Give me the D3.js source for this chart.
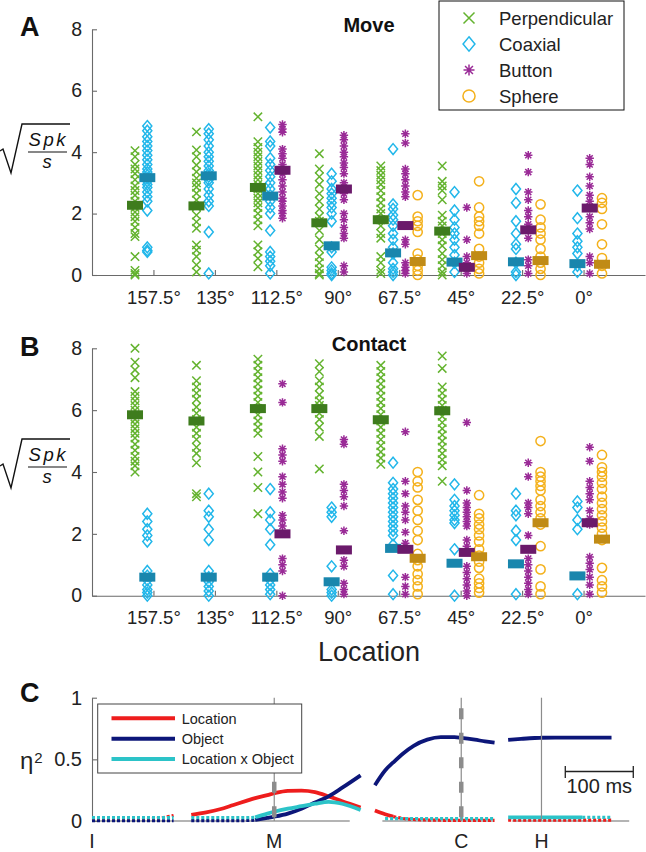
<!DOCTYPE html>
<html><head><meta charset="utf-8">
<script src="https://cdn.jsdelivr.net/npm/d3@7"></script>
<style>
body{margin:0;background:#fff}
svg{display:block}
text{font-family:"Liberation Sans",Arial,Helvetica,sans-serif}
</style>
</head><body>
<svg id="chart" width="646" height="852"></svg>
<script>
// ---------------- DATA ----------------
const locations = ["157.5°","135°","112.5°","90°","67.5°","45°","22.5°","0°"];
const objects = ["Perpendicular","Coaxial","Button","Sphere"];

// Panel A (Move): sqrt(spikes/s) per trial, one array per location
const movePerpendicular = [
 [4.05,3.85,3.6,3.45,3.3,3.1,2.9,2.75,2.6,2.4,2.2,2.05,1.9,1.75,1.55,1.35,1.25,0.6,0.15,0.05,0],
 [4.66,4.07,3.85,3.58,3.36,3.15,3.0,2.86,2.66,2.44,2.22,1.95,1.73,1.52,0.98,0.81,0.6,0.33,0.1],
 [5.15,4.34,4.15,4.0,3.85,3.7,3.55,3.4,3.25,3.1,2.95,2.8,2.65,2.5,2.35,2.2,2.0,1.8,1.6,0.98,0.76,0.54,0.27],
 [3.95,3.45,3.2,2.95,2.65,2.4,2.15,1.9,1.75,1.45,1.15,0.85,0.6,0.4,0.2,0.05,0],
 [3.55,3.4,3.25,3.1,2.95,2.75,2.55,2.35,2.15,2.0,1.8,1.6,1.35,1.2,0.6,0.4,0.15,0.05],
 [3.55,3.05,2.9,2.75,2.45,1.95,1.75,1.6,1.35,1.15,0.95,0.7,0.5,0.3,0.1,0],
 [],[]
];
const moveCoaxial = [
 [4.85,4.7,4.5,4.35,4.2,4.05,3.9,3.75,3.6,3.45,3.35,3.25,3.15,3.05,2.95,2.85,2.7,2.55,2.4,2.1,0.9,0.8,0.75],
 [4.75,4.6,4.4,4.2,4.0,3.85,3.7,3.55,3.4,3.3,3.2,3.1,3.0,2.8,2.6,2.4,2.25,1.4,0.05],
 [4.8,4.35,4.2,3.8,3.6,3.4,3.2,3.0,2.8,2.6,2.4,2.2,2.0,1.45,0.75,0.6,0.45,0.3,0.05],
 [3.3,3.05,2.8,2.65,2.5,2.35,2.2,2.0,1.75,0.9,0.75,0.25,0.15,0.05,0],
 [4.1,2.3,2.15,1.95,1.8,1.6,1.35,1.15,0.9,0.7,0.4,0.2,0.1,0],
 [2.7,2.1,1.8,1.55,1.35,1.15,0.9,0.65,0.4,0.1],
 [2.8,2.35,1.75,1.35,1.0,0.85,0.4,0.1,0],
 [2.75,1.85,1.35,1.1,0.9,0.7,0.3,0.1]
];
const moveButton = [
 [],[],
 [4.9,4.75,4.65,4.1,3.95,3.8,3.6,3.45,3.3,3.1,2.9,2.7,2.5,2.4,2.25,2.1,2.0,1.85],
 [4.55,4.4,4.2,4.0,3.85,3.65,3.5,3.3,3.0,2.85,2.65,2.45,2.0,1.8,1.55,1.35,1.2,0.3,0.1],
 [4.6,4.3,3.45,3.3,3.1,2.9,2.7,2.55,1.15,1.0,0.4,0.25,0.15,0.05],
 [2.2,1.15,0.6,0.4,0.2,0.05],
 [3.9,3.35,2.7,2.45,2.1,1.9,1.65,1.2,0.5,0.3,0.05],
 [3.8,3.6,3.2,2.9,2.6,2.4,2.2,1.9,1.7,1.5,0.6,0.4,0.05]
];
const moveSphere = [
 [],[],[],[],
 [2.6,1.9,1.75,1.6,1.4,0.7,0.5,0.3,0.15,0],
 [3.05,2.2,1.9,1.75,1.6,1.35,0.85,0.6,0.4,0.2,0.05],
 [2.3,1.8,1.55,1.35,1.15,0.85,0.6,0.4,0.2,0],
 [2.5,2.35,2.15,1.65,1.0,0.55,0.3,0.05]
];
const moveMedPerpendicular = [2.27,2.25,2.85,1.7,1.8,1.43,null,null];
const moveMedCoaxial = [3.17,3.23,2.57,0.95,0.72,0.42,0.43,0.37];
const moveMedButton = [null,null,3.41,2.8,1.61,0.25,1.47,2.18];
const moveMedSphere = [null,null,null,null,0.44,0.63,0.47,0.35];

// Panel B (Contact)
const contactPerpendicular = [
 [8.0,7.55,7.3,7.05,6.6,6.45,6.3,6.15,6.0,5.85,5.7,5.55,5.4,5.25,5.1,4.9,4.7,4.5,4.35,4.2,4.0],
 [7.45,6.95,6.75,6.55,6.35,6.1,5.9,5.7,5.45,5.25,5.05,4.8,4.6,4.3,3.3,3.2],
 [7.65,7.45,7.25,7.05,6.85,6.65,6.45,6.25,6.05,5.85,5.65,5.45,5.25,4.5,4.0,3.5,2.65],
 [7.5,7.25,6.95,6.75,6.5,6.3,6.15,5.9,5.7,5.45,5.15,4.1],
 [7.45,7.25,7.05,6.85,6.65,6.45,6.25,6.05,5.85,5.65,5.45,5.25,5.05,4.85,4.65,4.45,4.25],
 [7.75,7.35,6.75,6.55,6.35,6.15,6.0,5.8,5.6,5.4,5.2,5.0,4.8,4.6,4.4,4.2,3.7],
 [],[]
];
const contactCoaxial = [
 [2.65,2.4,2.15,1.95,1.75,0.8,0.65,0.5,0.35,0.2,0.1,0],
 [3.3,2.75,2.55,2.15,1.8,0.8,0.6,0.45,0.3,0.15,0],
 [3.45,2.7,2.45,2.15,1.65,0.7,0.5,0.35,0.2,0.05],
 [2.85,2.7,2.55,0.95,0.2,0.1,0],
 [4.3,3.65,3.45,3.3,3.15,3.0,2.85,2.7,2.55,2.4,2.25,2.1,1.95,1.65,0.65,0.05],
 [3.6,3.1,2.9,2.75,2.6,2.45,2.35,1.5,0],
 [3.3,2.75,2.6,2.1,1.8,0.05],
 [3.05,2.85,2.45,2.15,0.05]
];
const contactButton = [
 [],[],
 [6.85,6.25,4.75,4.55,4.35,3.85,3.6,3.35,3.15,2.6,2.45,2.25,1.2,1.0,0.8,0],
 [5.05,4.9,3.6,3.4,3.2,2.9,2.1,1.15,0.95,0.4,0.2,0.05],
 [5.3,3.7,3.3,2.9,2.7,2.45,2.05,1.7,0.6,0.3,0.05],
 [5.6,3.4,3.0,2.85,2.7,2.55,2.4,2.25,1.8,1.6,0.95,0.75,0.55,0.35,0.15,0],
 [4.3,3.85,3.0,2.85,2.65,1.95,1.2,1.0,0.8,0.6,0.4,0.2,0.05],
 [4.8,4.35,3.7,3.5,3.3,3.1,2.75,2.5,2.3,1.25,1.05,0.85,0.6,0.35,0.05]
];
const contactSphere = [
 [],[],[],[],
 [4.0,3.7,3.5,3.1,2.75,2.45,2.1,1.8,1.35,1.15,0.95,0.7,0.5,0.3,0.05],
 [3.25,2.65,2.5,2.3,2.15,1.95,1.75,1.5,1.3,1.1,0.9,0.55,0.4,0.25,0.1],
 [5.0,4.0,3.85,3.7,3.55,3.4,3.1,2.9,2.7,2.5,2.3,1.6,0.85,0.3,0.05],
 [4.55,4.15,4.0,3.85,3.65,3.45,3.2,3.0,2.8,2.6,2.4,2.2,2.0,1.8,0.9,0.5,0.3,0.1]
];
const contactMedPerpendicular = [5.85,5.65,6.05,6.05,5.69,5.98,null,null];
const contactMedCoaxial = [0.6,0.6,0.6,0.45,1.53,1.05,1.03,0.64];
const contactMedButton = [null,null,2.0,1.48,1.5,1.4,1.5,2.36];
const contactMedSphere = [null,null,null,null,1.21,1.26,2.36,1.83];

const yTicksAB = [0,2,4,6,8];

// Panel C: eta^2 time courses, aligned to task events
const cSeries = ["Location","Object","Location x Object"];
const cEpochs = ["I","M","C","H"];
const cEpochTimes = [0,268,543,661];          // ms on composite time axis
const cAxisSpans = [[0,379],[427,590],[618,790]];
const cScaleBar = [696,796];                  // 100 ms
const cYTicks = [0,0.5,1];

const tI = [0,20,40,60,80,100,120];
const locI = [0.008,0.008,0.008,0.009,0.013,0.024,0.045];
const objI = [0.002,0.002,0.002,0.002,0.002,0.002,0.002];
const intI = [0.027,0.027,0.027,0.027,0.027,0.027,0.027];
const locSigI = [0,0,0,0,0,0,0];
const objSigI = [0,0,0,0,0,0,0];
const intSigI = [0,0,0,0,0,0,0];

const tM = [-122,-100,-80,-60,-40,-28,-10,0,20,40,60,80,100,127];
const locM = [0.05,0.07,0.095,0.13,0.165,0.185,0.21,0.225,0.245,0.247,0.235,0.2,0.16,0.11];
const objM = [0.003,0.003,0.003,0.003,0.004,0.008,0.025,0.035,0.06,0.1,0.15,0.2,0.27,0.37];
const intM = [0.027,0.027,0.027,0.027,0.027,0.03,0.06,0.075,0.1,0.12,0.14,0.155,0.14,0.09];
const locSigM = [1,1,1,1,1,1,1,1,1,1,1,1,1,1];
const objSigM = [0,0,0,0,0,1,1,1,1,1,1,1,1,1];
const intSigM = [0,0,0,0,0,1,1,1,1,1,1,1,1,1];

const tC = [-127,-112,-100,-85,-70,-50,-30,-10,0,20,35,49];
const locC = [0.085,0.055,0.035,0.02,0.012,0.008,0.006,0.005,0.005,0.005,0.005,0.005];
const objC = [0.29,0.41,0.475,0.55,0.61,0.66,0.68,0.68,0.675,0.66,0.645,0.635];
const intC = [null,0.02,0.02,0.02,0.02,0.02,0.02,0.02,0.02,0.02,0.02,0.02];
const locSigC = [1,1,1,0,0,0,0,0,0,0,0,0];
const objSigC = [1,1,1,1,1,1,1,1,1,1,1,1];
const intSigC = [0,0,0,0,0,0,0,0,0,0,0,0];

const tH = [-49,-30,-10,0,20,40,60,80,103];
const locH = [0.007,0.007,0.007,0.007,0.007,0.007,0.007,0.007,0.007];
const objH = [0.658,0.666,0.673,0.675,0.677,0.677,0.677,0.676,0.676];
const intH = [0.03,0.03,0.03,0.03,0.03,0.03,0.03,0.03,0.03];
const locSigH = [0,0,0,0,0,0,0,0,0];
const objSigH = [1,1,1,1,1,1,1,1,1];
const intSigH = [1,1,1,1,1,1,1,0,0];

// ---------------- DRAW ----------------
const svg = d3.select("#chart");
const axisGray = "#6a6a6a";
const textCol = "#222";
const pointColors = ["#64b32f","#22b7ea","#9a2b97","#f4b11c"];
const medianColors = ["#3e7c1d","#1986ad","#6b1a6b","#c08b16"];
const markerTypes = ["x","diamond","star","circle"];

function markerPath(type, s){
  if(type==="x") return `M${-s},${-s}L${s},${s}M${-s},${s}L${s},${-s}`;
  if(type==="diamond") return `M0,${-s*1.3}L${s*1.08},0L0,${s*1.3}L${-s*1.08},0Z`;
  if(type==="star"){const d=s*0.72;return `M0,${-s}L0,${s}M${-s},0L${s},0M${-d},${-d}L${d},${d}M${-d},${d}L${d},${-d}`;}
  const r=s*1.1; return `M${-r},0A${r},${r} 0 1,0 ${r},0A${r},${r} 0 1,0 ${-r},0Z`;
}

const xCat = d3.scaleLinear().domain([0,9]).range([92,645]);
const objOffsets = [-0.3,-0.1,0.1,0.3];

function drawSqrtLabel(g, yBar){
  g.append("path").attr("d",`M0,${yBar-1}L3,${yBar-3}L11,${yBar+21}L22,${yBar-28}H70`)
    .attr("fill","none").attr("stroke","#111").attr("stroke-width",1.4);
  g.append("text").attr("x",47).attr("y",yBar-6).attr("text-anchor","middle")
    .attr("font-family","'Liberation Serif','DejaVu Serif',serif").attr("font-style","italic")
    .attr("font-size",18.5).attr("textLength",37).attr("lengthAdjust","spacing").attr("fill","#111").text("Spk");
  g.append("line").attr("x1",28).attr("x2",67).attr("y1",yBar).attr("y2",yBar).attr("stroke","#111").attr("stroke-width",1.2);
  g.append("text").attr("x",47).attr("y",yBar+16).attr("text-anchor","middle")
    .attr("font-family","'Liberation Serif','DejaVu Serif',serif").attr("font-style","italic")
    .attr("font-size",18.5).attr("fill","#111").text("s");
}

const panels = [
  {letter:"A", title:"Move", y:d3.scaleLinear().domain([0,8]).range([275,29.3]), letterY:36, titleY:32, barY:152,
   pts:[movePerpendicular,moveCoaxial,moveButton,moveSphere],
   meds:[moveMedPerpendicular,moveMedCoaxial,moveMedButton,moveMedSphere]},
  {letter:"B", title:"Contact", y:d3.scaleLinear().domain([0,8]).range([595.7,348.3]), letterY:356, titleY:351, barY:467,
   pts:[contactPerpendicular,contactCoaxial,contactButton,contactSphere],
   meds:[contactMedPerpendicular,contactMedCoaxial,contactMedButton,contactMedSphere]}
];

panels.forEach(p=>{
  const g = svg.append("g");
  const y = p.y;
  const ya = g.append("g").attr("transform",`translate(${xCat(0)},0)`)
    .call(d3.axisLeft(y).tickValues(yTicksAB).tickSizeInner(-5).tickSizeOuter(0).tickPadding(10));
  const xa = g.append("g").attr("transform",`translate(0,${y(0)})`)
    .call(d3.axisBottom(xCat).tickValues(d3.range(1,9)).tickFormat(i=>locations[i-1]).tickSizeInner(-5).tickSizeOuter(0).tickPadding(15.5));
  [ya,xa].forEach(a=>{
    a.selectAll("path,line").attr("stroke",axisGray).attr("stroke-width",1.1);
    a.selectAll("text").attr("fill",textCol).attr("font-size",a===ya?19.5:18.5);
  });
  p.pts.forEach((series,oi)=>{
    series.forEach((vals,li)=>{
      const cx = xCat(li+1+objOffsets[oi]);
      g.selectAll(null).data(vals).enter().append("path")
        .attr("d",markerPath(markerTypes[oi],4.2))
        .attr("transform",v=>`translate(${cx},${y(v)})`)
        .attr("fill","none").attr("stroke",pointColors[oi]).attr("stroke-width",1.5);
    });
  });
  p.meds.forEach((arr,oi)=>{
    g.selectAll(null).data(arr.map((v,li)=>({v,li})).filter(d=>d.v!==null)).enter().append("rect")
      .attr("x",d=>xCat(d.li+1+objOffsets[oi])-8).attr("y",d=>y(d.v)-4.5)
      .attr("width",16).attr("height",9).attr("fill",medianColors[oi]);
  });
  g.append("text").attr("x",20).attr("y",p.letterY).attr("font-weight","bold").attr("font-size",27).attr("fill","#111").text(p.letter);
  g.append("text").attr("x",369).attr("y",p.titleY).attr("text-anchor","middle").attr("font-weight","bold").attr("font-size",20).attr("fill","#111").text(p.title);
  drawSqrtLabel(g, p.barY);
});

svg.append("text").attr("x",369).attr("y",661).attr("text-anchor","middle").attr("font-size",27).attr("fill",textCol).text("Location");

// Legend A
{
  const lg = svg.append("g");
  lg.append("rect").attr("x",439).attr("y",1).attr("width",185).attr("height",109).attr("fill","#fff").attr("stroke","#111").attr("stroke-width",1);
  objects.forEach((o,i)=>{
    const yy = 18 + i*26;
    lg.append("path").attr("d",markerPath(markerTypes[i],5.5)).attr("transform",`translate(469,${yy})`)
      .attr("fill","none").attr("stroke",pointColors[i]).attr("stroke-width",1.5);
    lg.append("text").attr("x",499).attr("y",yy+6.5).attr("font-size",18.5).attr("fill",textCol).text(o);
  });
}

// ---------------- Panel C ----------------
const xC = d3.scaleLinear().domain([0,800]).range([92,636]);
const yC = d3.scaleLinear().domain([0,1]).range([821,697.7]);
const cColors = ["#ee1d1d","#0c1679","#2cc3c8"];
const gC = svg.append("g");

const yaC = gC.append("g").attr("transform",`translate(${xC(0)},0)`)
  .call(d3.axisLeft(yC).tickValues(cYTicks).tickFormat(d=>d===0?"0":d===1?"1":"0.5").tickSizeInner(-5).tickSizeOuter(0).tickPadding(10));
yaC.selectAll("path,line").attr("stroke",axisGray).attr("stroke-width",1.1);
yaC.selectAll("text").attr("fill",textCol).attr("font-size",20);
gC.selectAll(null).data(cAxisSpans).enter().append("line")
  .attr("x1",d=>xC(d[0])).attr("x2",d=>xC(d[1])).attr("y1",yC(0)).attr("y2",yC(0))
  .attr("stroke",axisGray).attr("stroke-width",1.1);

const segs = [
  {t:tI, ev:cEpochTimes[0], vals:[locI,objI,intI], sig:[locSigI,objSigI,intSigI]},
  {t:tM, ev:cEpochTimes[1], vals:[locM,objM,intM], sig:[locSigM,objSigM,intSigM]},
  {t:tC, ev:cEpochTimes[2], vals:[locC,objC,intC], sig:[locSigC,objSigC,intSigC]},
  {t:tH, ev:cEpochTimes[3], vals:[locH,objH,intH], sig:[locSigH,objSigH,intSigH]}
];
const lineGen = d3.line().x(d=>xC(d.t)).y(d=>yC(d.v)).curve(d3.curveMonotoneX);
[0,1,2].forEach(si=>{
  segs.forEach(seg=>{
    const pts = seg.t.map((t,i)=>({t:seg.ev+t, v:seg.vals[si][i], s:seg.sig[si][i]})).filter(d=>d.v!==null);
    let runs=[], cur=null;
    for(let i=0;i<pts.length-1;i++){
      const solid = pts[i].s && pts[i+1].s;
      if(!cur || cur.solid!==solid){ cur={solid, pts:[pts[i]]}; runs.push(cur); }
      cur.pts.push(pts[i+1]);
    }
    runs.forEach(r=>{
      gC.append("path").attr("d",lineGen(r.pts)).attr("fill","none")
        .attr("stroke",cColors[si]).attr("stroke-width",r.solid?3.8:3.2)
        .attr("stroke-dasharray",r.solid?null:"3,2");
    });
  });
});

cEpochTimes.forEach((t,i)=>{
  if(i===0) return;
  gC.append("line").attr("x1",xC(t)).attr("x2",xC(t)).attr("y1",yC(1)).attr("y2",yC(0))
    .attr("stroke","#8c8c8c").attr("stroke-width",1.2);
  if(i===1||i===2){
    gC.append("line").attr("x1",xC(t)).attr("x2",xC(t)).attr("y1",yC(1)+10.5).attr("y2",yC(0))
      .attr("stroke","#8c8c8c").attr("stroke-width",4.5).attr("stroke-dasharray","11,13.5");
  }
});
gC.selectAll(null).data(cEpochs).enter().append("text")
  .attr("x",(d,i)=>xC(cEpochTimes[i])).attr("y",848).attr("text-anchor","middle")
  .attr("font-size",19.5).attr("fill",textCol).text(d=>d);

{
  const x1=xC(cScaleBar[0]), x2=xC(cScaleBar[1]);
  gC.append("path").attr("d",`M${x1},766V778M${x1},771.5H${x2}M${x2},766V778`).attr("fill","none").attr("stroke","#222").attr("stroke-width",1.3);
  gC.append("text").attr("x",(x1+x2)/2).attr("y",792.5).attr("text-anchor","middle").attr("font-size",20).attr("fill",textCol).text("100 ms");
}

{
  const lg = gC.append("g");
  lg.append("rect").attr("x",97.7).attr("y",704).attr("width",204).attr("height",69).attr("fill","#fff").attr("stroke","#444").attr("stroke-width",1);
  cSeries.forEach((s,i)=>{
    const yy = 718.3 + i*20.4;
    lg.append("line").attr("x1",111.5).attr("x2",175).attr("y1",yy).attr("y2",yy).attr("stroke",cColors[i]).attr("stroke-width",4);
    lg.append("text").attr("x",181.7).attr("y",yy+5.3).attr("font-size",14.5).attr("fill",textCol).text(s);
  });
}

svg.append("text").attr("x",20).attr("y",701.5).attr("font-weight","bold").attr("font-size",27).attr("fill","#111").text("C");
{
  const t = svg.append("text").attr("x",20).attr("y",769).attr("font-size",24).attr("fill",textCol);
  t.append("tspan").text("η");
  t.append("tspan").attr("font-size",15).attr("dy",-6).attr("dx",1).text("2");
}
</script>
</body></html>
